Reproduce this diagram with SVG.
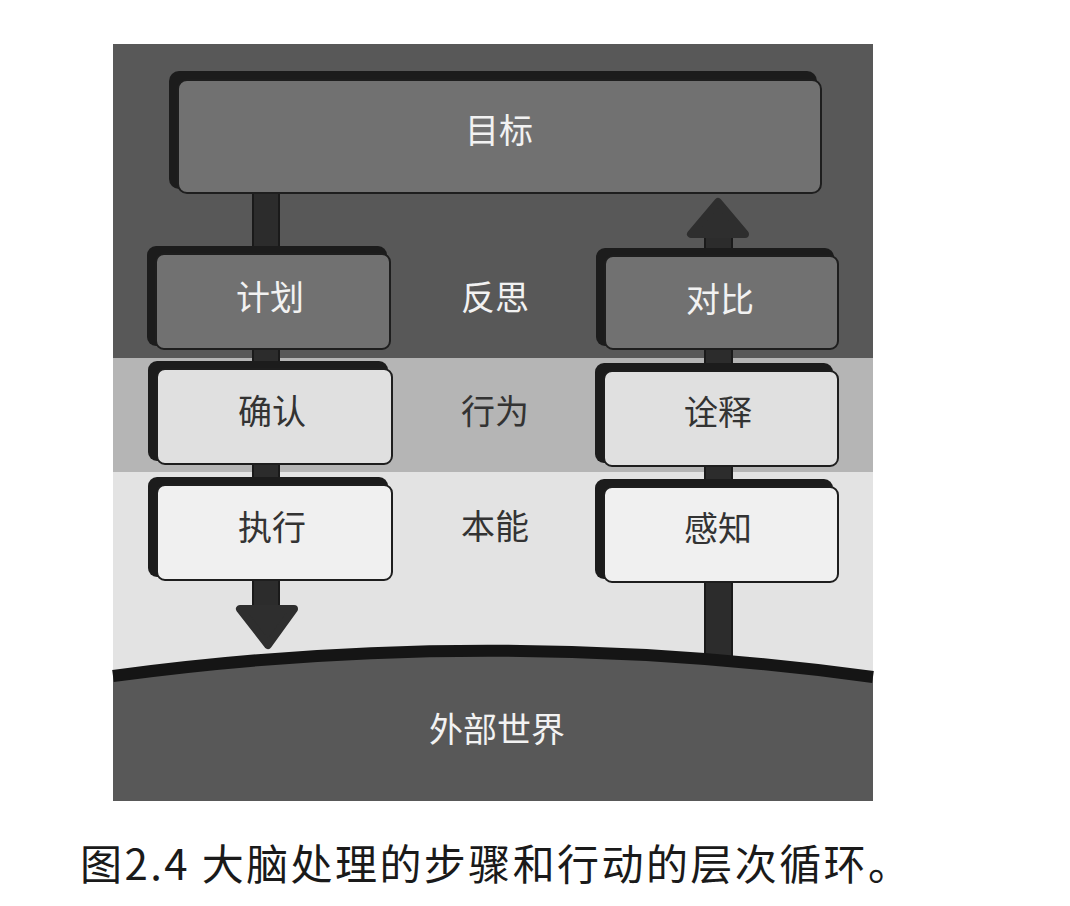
<svg xmlns="http://www.w3.org/2000/svg" width="1070" height="906" viewBox="0 0 1070 906">
<style>
.sh{fill:#1c1c1c}
.bd{fill:#717171;stroke:#1e1e1e;stroke-width:2}
.bm{fill:#e0e0e0;stroke:#1e1e1e;stroke-width:2}
.bl{fill:#f0f0f0;stroke:#1e1e1e;stroke-width:2}
.t{font-family:"Noto Sans CJK SC","Noto Sans",sans-serif;font-size:34px;text-anchor:middle}
.tw{fill:#f2f2f2}
.tk{fill:#333333}
.stem{fill:#2c2c2c;stroke:#1a1a1a;stroke-width:2}
.head{fill:#2e2e2e;stroke:#2e2e2e;stroke-width:8;stroke-linejoin:round}
</style>
<rect x="0" y="0" width="1070" height="906" fill="#ffffff"/>
<g id="background">
<rect x="113" y="44" width="760" height="315" fill="#585858"/>
<rect x="113" y="358" width="760" height="115" fill="#b5b5b5"/>
<rect x="113" y="472" width="760" height="329" fill="#e3e3e3"/>
</g>
<g id="connectors">
<rect class="stem" x="253" y="190" width="26" height="420"/>
<polygon class="head" points="240,609 294,609 268,645"/>
<rect class="stem" x="705" y="232" width="27" height="432"/>
<polygon class="head" points="691,234 745,234 718,202"/>
</g>
<g id="world">
<path d="M113,676 Q490,625 873,677 L873,801 L113,801 Z" fill="#585858"/>
<path d="M113,676 Q490,625 873,677" fill="none" stroke="#151515" stroke-width="12"/>
<text class="t tw" x="497" y="742">外部世界</text>
</g>
<g id="layer-labels">
<text class="t tw" x="495" y="310">反思</text>
<text class="t tk" x="495" y="424">行为</text>
<text class="t tk" x="495" y="539">本能</text>
</g>
<g id="goal">
<rect class="sh" x="169" y="71" width="648" height="118" rx="10"/>
<rect class="bd" x="178" y="80" width="643" height="113" rx="9" fill="#767676"/>
<text class="t tw" x="499" y="143">目标</text>
</g>
<g id="plan">
<rect class="sh" x="147" y="246" width="240" height="100" rx="9"/>
<rect class="bd" x="156" y="254" width="234" height="95" rx="8"/>
<text class="t tw" x="270" y="310">计划</text>
</g>
<g id="confirm">
<rect class="sh" x="148" y="361" width="240" height="100" rx="9"/>
<rect class="bm" x="157" y="369" width="235" height="95" rx="8"/>
<text class="t tk" x="272" y="424">确认</text>
</g>
<g id="execute">
<rect class="sh" x="148" y="477" width="240" height="100" rx="9"/>
<rect class="bl" x="157" y="485" width="235" height="95" rx="8"/>
<text class="t tk" x="272" y="540">执行</text>
</g>
<g id="compare">
<rect class="sh" x="596" y="248" width="238" height="98" rx="9"/>
<rect class="bd" x="605" y="256" width="233" height="93" rx="8"/>
<text class="t tw" x="720" y="312">对比</text>
</g>
<g id="interpret">
<rect class="sh" x="595" y="363" width="238" height="100" rx="9"/>
<rect class="bm" x="604" y="371" width="234" height="95" rx="8"/>
<text class="t tk" x="718" y="425">诠释</text>
</g>
<g id="perceive">
<rect class="sh" x="595" y="479" width="238" height="100" rx="9"/>
<rect class="bl" x="604" y="487" width="234" height="95" rx="8"/>
<text class="t tk" x="718" y="541">感知</text>
</g>
<g id="caption">
<text x="80" y="880" font-family="'Noto Sans CJK SC','Noto Sans',sans-serif" font-size="42" fill="#1a1a1a" textLength="830" lengthAdjust="spacing">图2.4 大脑处理的步骤和行动的层次循环。</text>
</g>
</svg>
